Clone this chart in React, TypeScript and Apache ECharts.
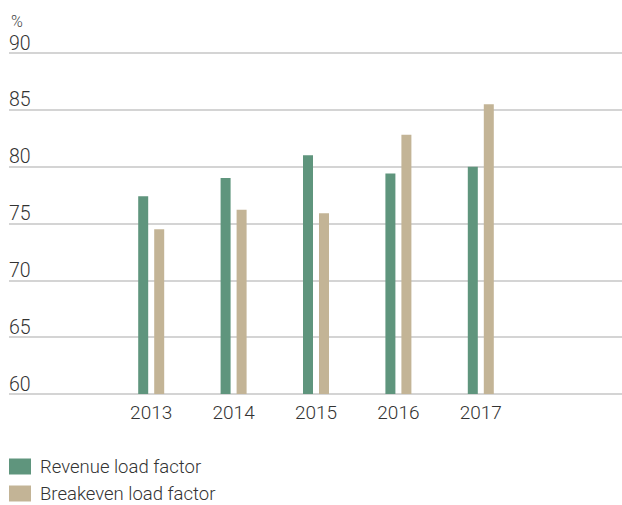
import React, { useEffect, useRef } from "react";
import * as echarts from "echarts";

const categories = ["2013", "2014", "2015", "2016", "2017"];
const revenueLoadFactor = [77.4, 79.0, 81.0, 79.4, 80.0];
const breakevenLoadFactor = [74.5, 76.2, 75.9, 82.8, 85.5];
const yTicks = { min: 60, max: 90, interval: 5 };
const seriesNames = ["Revenue load factor", "Breakeven load factor"];

const FONT = "Roboto, 'Noto Sans', sans-serif";
const GREEN = "#5f957d";
const BEIGE = "#c3b496";

const legendBase = {
  orient: "vertical",
  left: 9,
  padding: 0,
  itemWidth: 22,
  itemHeight: 16,
  icon: "rect",
  textStyle: {
    fontSize: 18.5,
    lineHeight: 18,
    color: "#333",
    fontFamily: FONT,
    fontWeight: 300,
    padding: [0, 0, 0, 4],
  },
};

export default function App() {
  const ref = useRef<HTMLDivElement>(null);
  useEffect(() => {
    if (!ref.current) return;
    const chart = echarts.init(ref.current, undefined, { renderer: "svg" });
    chart.setOption({
      animation: false,
      textStyle: { fontFamily: FONT },
      graphic: [
        {
          type: "text",
          left: 11,
          top: 13,
          style: { text: "%", fontSize: 16, fill: "#444", fontFamily: FONT, fontWeight: 300 },
        },
      ],
      legend: [
        { ...legendBase, top: 457, data: [seriesNames[0]] },
        { ...legendBase, top: 484, data: [seriesNames[1]] },
      ],
      grid: [
        { left: 9, right: 0, top: 53, height: 341, containLabel: false },
        { left: 110, right: 100, top: 53, height: 341, containLabel: false },
      ],
      xAxis: [
        { type: "value", gridIndex: 0, show: false },
        {
          type: "category",
          gridIndex: 1,
          data: categories,
          axisLine: { show: false },
          axisTick: { show: false },
          axisLabel: { fontSize: 19, color: "#333", margin: 9, fontFamily: FONT, fontWeight: 300 },
        },
      ],
      yAxis: [
        {
          type: "value",
          gridIndex: 0,
          min: yTicks.min,
          max: yTicks.max,
          interval: yTicks.interval,
          axisLine: { show: false },
          axisTick: { show: false },
          splitLine: { lineStyle: { color: "#c6c6c6", width: 1.5 } },
          axisLabel: {
            inside: true,
            margin: 0,
            align: "left",
            verticalAlign: "bottom",
            padding: [0, 0, 0, 0],
            fontSize: 19.5,
            color: "#333",
            fontFamily: FONT,
            fontWeight: 300,
          },
        },
        {
          type: "value",
          gridIndex: 1,
          min: yTicks.min,
          max: yTicks.max,
          interval: yTicks.interval,
          show: false,
          splitLine: { show: false },
        },
      ],
      series: [
        {
          name: seriesNames[0],
          type: "bar",
          xAxisIndex: 1,
          yAxisIndex: 1,
          data: revenueLoadFactor,
          barWidth: 10,
          barGap: "60%",
          itemStyle: { color: GREEN },
        },
        {
          name: seriesNames[1],
          type: "bar",
          xAxisIndex: 1,
          yAxisIndex: 1,
          data: breakevenLoadFactor,
          barWidth: 10,
          barGap: "60%",
          itemStyle: { color: BEIGE },
        },
      ],
    });
    return () => chart.dispose();
  }, []);
  return <div ref={ref} style={{ width: 622, height: 505, position: "absolute", left: 0, top: 0 }} />;
}
